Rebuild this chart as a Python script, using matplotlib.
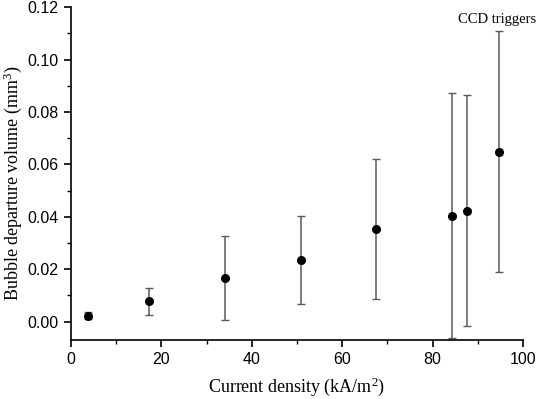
import numpy as np
import matplotlib.pyplot as plt
from matplotlib.ticker import MultipleLocator

# current density (kA/m^2) and mean bubble departure volume (mm^3)
density = [3.8, 17.3, 34.1, 50.8, 67.5, 84.3, 87.6, 94.6]
volume = [0.0023, 0.0079, 0.0167, 0.0237, 0.0354, 0.0405, 0.0424, 0.0649]
err_low = [0.0011, 0.0024, 0.0006, 0.0069, 0.0087, -0.0061, -0.0016, 0.0189]
err_high = [0.0036, 0.0130, 0.0328, 0.0405, 0.0621, 0.0872, 0.0863, 0.1109]

plt.rcParams['mathtext.fontset'] = 'custom'
plt.rcParams['mathtext.rm'] = 'Liberation Serif'
plt.rcParams['mathtext.it'] = 'Liberation Serif:italic'

volume = np.array(volume)
yerr = [volume - np.array(err_low), np.array(err_high) - volume]

fig = plt.figure(figsize=(5.36, 3.99), dpi=100)
ax = fig.add_axes([0.1325, 0.1479, 0.8432, 0.8341])

ax.errorbar(density, volume, yerr=yerr, fmt='o', color='black', ms=5.5,
            ecolor='#5a5a5a', elinewidth=1.1, capsize=3, capthick=1.0)

ax.text(94.3, 0.1152, 'CCD triggers', ha='center', va='center',
        family='Liberation Serif', fontsize=10.5)

ax.set_xlim(0, 100)
ax.set_ylim(-0.0070, 0.12)
ax.xaxis.set_major_locator(MultipleLocator(20))
ax.xaxis.set_minor_locator(MultipleLocator(10))
ax.yaxis.set_major_locator(MultipleLocator(0.02))
ax.yaxis.set_minor_locator(MultipleLocator(0.01))
ax.yaxis.set_major_formatter(plt.FormatStrFormatter('%.2f'))

for s in ['top', 'right']:
    ax.spines[s].set_visible(False)
for s in ['left', 'bottom']:
    ax.spines[s].set_linewidth(1.2)
ax.tick_params(which='major', direction='out', length=5, width=1.2, pad=4)
ax.tick_params(which='minor', direction='out', length=3, width=1.0)
for lab in ax.get_xticklabels() + ax.get_yticklabels():
    lab.set_family('Liberation Sans')
    lab.set_fontsize(11.5)

ax.set_xlabel('Current density (kA/m$^2$)', family='Liberation Serif',
              fontsize=13, labelpad=6)
ax.set_ylabel('Bubble departure volume (mm$^3$)', family='Liberation Serif',
              fontsize=13, labelpad=3)
ax.yaxis.set_label_coords(-0.104, 0.47)

fig.savefig('out.png', dpi=100)
